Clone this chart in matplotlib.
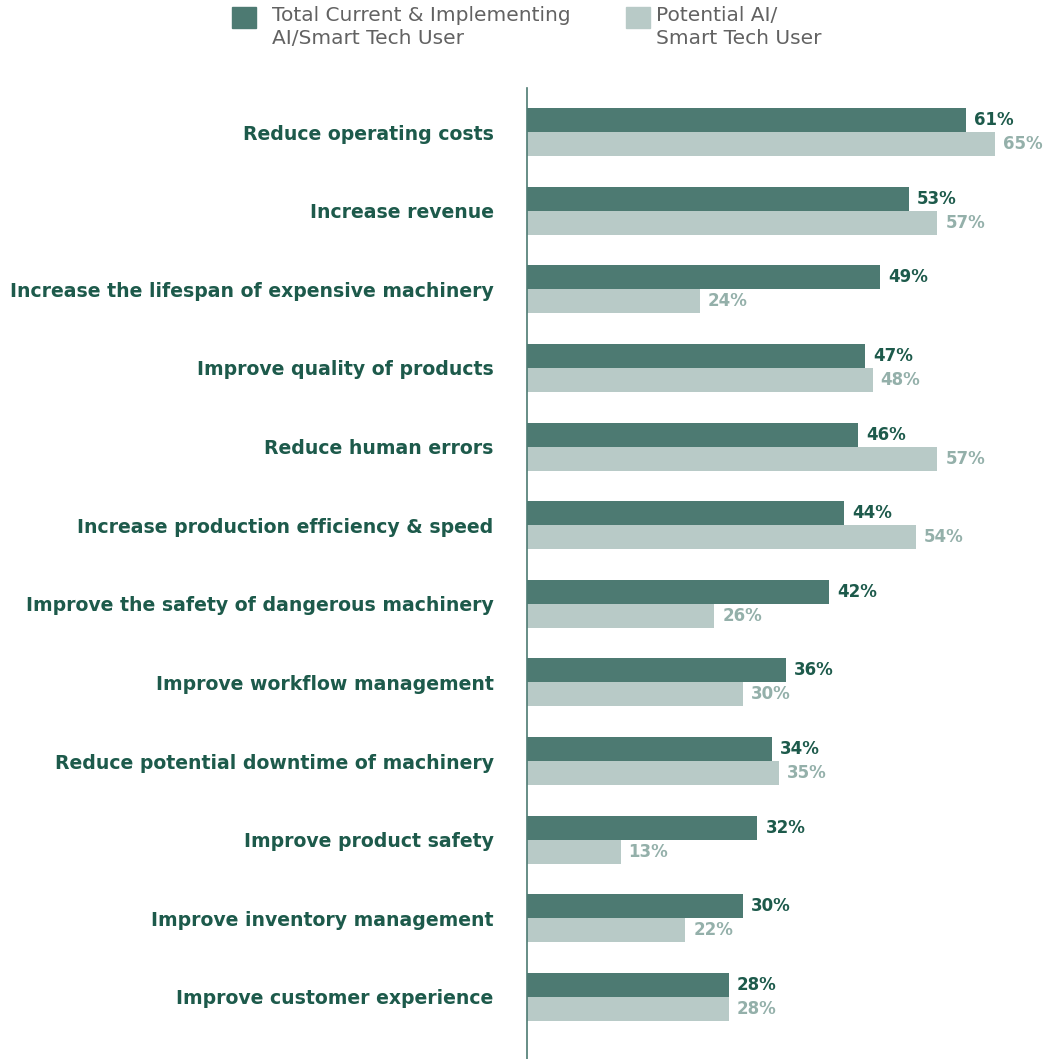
import matplotlib.pyplot as plt
from matplotlib.patches import Rectangle
import numpy as np

plt.rcParams['font.family'] = ['DejaVu Sans']

benefits = [
    'Reduce operating costs',
    'Increase revenue',
    'Increase the lifespan of expensive machinery',
    'Improve quality of products',
    'Reduce human errors',
    'Increase production efficiency & speed',
    'Improve the safety of dangerous machinery',
    'Improve workflow management',
    'Reduce potential downtime of machinery',
    'Improve product safety',
    'Improve inventory management',
    'Improve customer experience',
]
current_users = [61, 53, 49, 47, 46, 44, 42, 36, 34, 32, 30, 28]
potential_users = [65, 57, 24, 48, 57, 54, 26, 30, 35, 13, 22, 28]
series_names = ['Total Current & Implementing\nAI/Smart Tech User',
                'Potential AI/\nSmart Tech User']

dark = '#4d7a72'
light = '#b8cac7'
label_green = '#1d5a4b'
light_text = '#94b0aa'
legend_grey = '#626262'

W, H = 1048, 1059
fig = plt.figure(figsize=(W / 100, H / 100), dpi=100)

# axes: left edge is the vertical spine, top at the start of that line
ax_left, ax_right = 527, 1040
ax_top, ax_bot = 88, 1059
ax = fig.add_axes([ax_left / W, 1 - ax_bot / H, (ax_right - ax_left) / W, (ax_bot - ax_top) / H])

px_per_pct = 7.2
row_px = 78.6
bar_h = 24 / row_px

y = np.arange(len(benefits))
ax.barh(y - bar_h / 2, current_users, height=bar_h, color=dark)
ax.barh(y + bar_h / 2, potential_users, height=bar_h, color=light)

off = 8 / px_per_pct
for yi, v in zip(y, current_users):
    ax.text(v + off, yi - bar_h / 2, f'{v}%', va='center', ha='left',
            fontsize=12, fontweight='bold', color=label_green, clip_on=False)
for yi, v in zip(y, potential_users):
    ax.text(v + off, yi + bar_h / 2, f'{v}%', va='center', ha='left',
            fontsize=12, fontweight='bold', color=light_text, clip_on=False)

ax.set_xlim(0, (ax_right - ax_left) / px_per_pct)
ax.set_ylim(len(benefits) - 1 + 62 / row_px, -44 / row_px)

ax.set_yticks(y)
ax.set_yticklabels(benefits, fontsize=13.6, fontweight='bold', color=label_green)
ax.tick_params(axis='y', length=0, pad=24)
ax.set_xticks([])
for s in ['top', 'right', 'bottom']:
    ax.spines[s].set_visible(False)
ax.spines['left'].set_color(dark)
ax.spines['left'].set_linewidth(1.2)

# legend drawn by hand: square swatch plus two-line label
for x_sq, x_txt, col, name in [(232, 272, dark, series_names[0]),
                              (626, 656, light, series_names[1])]:
    fig.patches.append(Rectangle((x_sq / W, 1 - 28 / H), 24 / W, 21 / H,
                                 transform=fig.transFigure, color=col))
    fig.text(x_txt / W, 1 - 6 / H, name, ha='left', va='top', fontsize=14.5,
             color=legend_grey, linespacing=1.3)

fig.savefig('out.png', dpi=100)
